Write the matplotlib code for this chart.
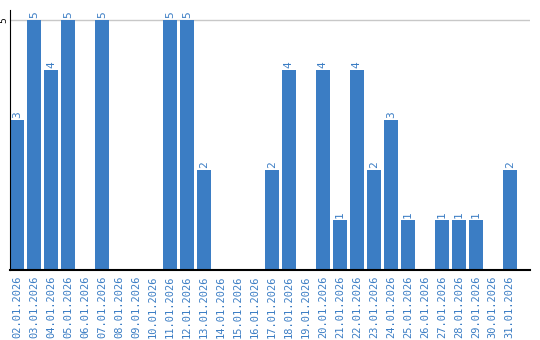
import matplotlib
matplotlib.use("Agg")
import matplotlib.pyplot as plt
import numpy as np

days = ["%02d.01.2026" % d for d in range(2, 32)]
counts = [3, 5, 4, 5, 0, 5, 0, 0, 0, 5, 5, 2, 0, 0, 0, 2, 4, 0, 4, 1,
          4, 2, 3, 1, 0, 1, 1, 1, 0, 2]

blue = "#3b7dc4"

fig = plt.figure(figsize=(5.4, 3.4), dpi=100)
ax = fig.add_axes([10 / 540, 70 / 340, 520 / 540, 260 / 340])

x = np.arange(len(days))
ax.bar(x, counts, width=0.82, color=blue, zorder=2)
for xi, v in zip(x, counts):
    if v > 0:
        ax.text(xi, v + 0.05, str(v), rotation=90, ha="center", va="bottom",
                color=blue, fontsize=8, family="DejaVu Sans Mono")

ax.set_xlim(-0.41, 30.19)
ax.set_ylim(0, 5.2)
ax.set_yticks([5])
ax.set_yticklabels(["5"], rotation=90, va="center", fontsize=6.5)
ax.yaxis.grid(True, color="#c8c8c8", linewidth=1, zorder=0)
ax.tick_params(axis="y", length=0, pad=1)

ax.set_xticks(x)
ax.set_xticklabels(days, rotation=90, color=blue, fontsize=7.5,
                   family="DejaVu Sans Mono")
ax.tick_params(axis="x", length=0, pad=4)

for s in ["top", "right"]:
    ax.spines[s].set_visible(False)
ax.spines["left"].set_color("black")
ax.spines["bottom"].set_color("black")
ax.spines["bottom"].set_linewidth(1.5)

fig.savefig("out.png", dpi=100)
